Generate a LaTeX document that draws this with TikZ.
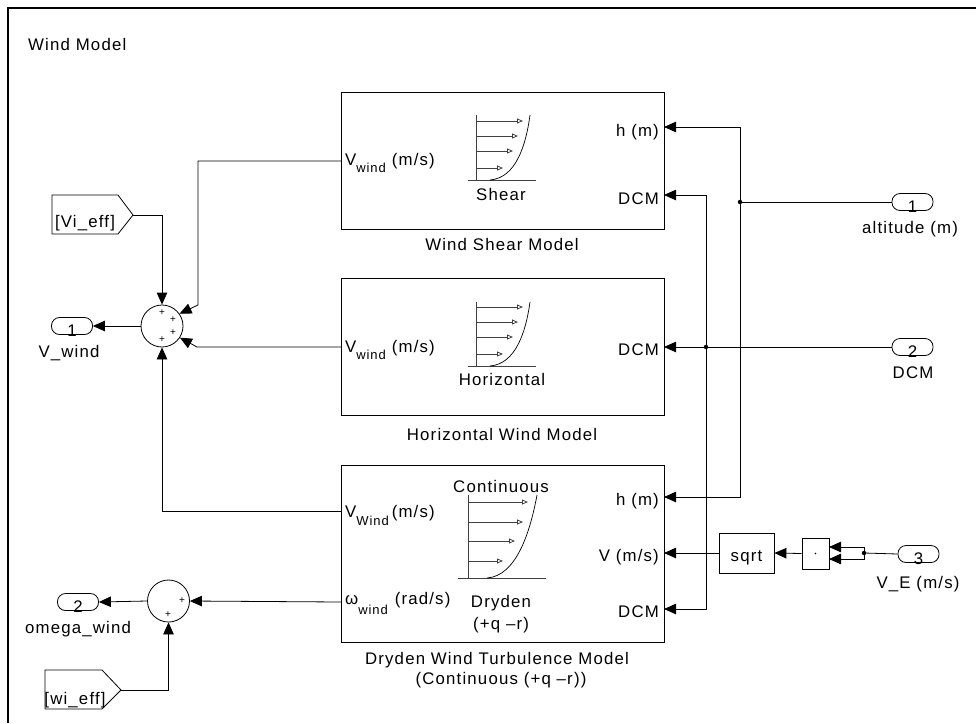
\documentclass[tikz,border=0pt]{standalone}
\usepackage{fontspec}
\setmainfont{Liberation Sans}[LetterSpace=7]
\usetikzlibrary{arrows.meta}
\newcommand{\fs}{\fontsize{16.8}{19}\selectfont}
\newcommand{\fsub}{\fontsize{13}{15}\selectfont}
\tikzset{
  ln/.style={line width=0.8pt},
  sig/.style={line width=0.8pt, -{Triangle[length=12pt,width=10.5pt]}},
  box/.style={draw, line width=0.8pt, inner sep=0pt, anchor=north west},
  txt/.style={font=\fs, inner sep=0pt},
  port/.style={draw, rounded corners=8pt, minimum width=41pt, minimum height=17pt, inner sep=0pt, line width=0.8pt},
  sumc/.style={draw, circle, minimum size=42pt, inner sep=0pt, line width=0.8pt},
  jdot/.style={circle, fill, inner sep=0pt, minimum size=4.5pt},
  plus/.style={font=\fontsize{10}{10}\selectfont, inner sep=0pt},
  iconax/.style={line width=0.9pt, black!75},
  iconar/.style={line width=0.8pt, black!75, -{Triangle[open,length=6pt,width=5pt]}},
}
\begin{document}
\begin{tikzpicture}[x=1pt,y=-1pt]
\useasboundingbox (0,0) rectangle (976,723);
% outer frame (left and top edges visible)
\draw[line width=2.5pt] (8,723) -- (8,8) -- (976,8);
\node[txt, anchor=base west] (title) at (28,50) {Wind Model};

% ---------- main blocks ----------
\node[box, minimum width=323pt, minimum height=137pt] (shear) at (341,92) {};
\node[box, minimum width=323pt, minimum height=137pt] (horiz) at (341,278) {};
\node[box, minimum width=323pt, minimum height=177pt] (dry) at (341,465) {};

% ports
\coordinate (sVin) at (341,161);
\coordinate (sH) at (664,127);
\coordinate (sDCM) at (664,195);
\coordinate (hVin) at (341,347);
\coordinate (hDCM) at (664,347);
\coordinate (dVin) at (341,511);
\coordinate (dW) at (341,602);
\coordinate (dH) at (664,497);
\coordinate (dV) at (664,553);
\coordinate (dDCM) at (664,609);

% shear block texts
\node[txt, anchor=base west] (sVt) at (345,165) {V\raisebox{-7pt}{\fsub wind}\hspace{6pt}(m/s)};
\node[txt, anchor=base east] (sHt) at (659,136) {h (m)};
\node[txt, anchor=base east] (sDt) at (659,204) {DCM};
\node[txt, anchor=base] (sName) at (501,200) {Shear};
\node[txt, anchor=base] (sCap) at (502,250) {Wind Shear Model};
\begin{scope}[shift={(476,180)}]
  \draw[iconax] (0,0) -- (0,-65);
  \draw[iconax] (-8,0) -- (60,0);
  \draw[iconar] (0,-59) -- (47,-59);
  \draw[iconar] (0,-44) -- (42,-44);
  \draw[iconar] (0,-29) -- (37,-29);
  \draw[iconar] (0,-12) -- (27,-12);
  \draw[line width=0.7pt] (14,0) .. controls (40,-2) and (50,-35) .. (54,-65);
\end{scope}

% horizontal block texts
\node[txt, anchor=base west] (hVt) at (345,352) {V\raisebox{-7pt}{\fsub wind}\hspace{6pt}(m/s)};
\node[txt, anchor=base east] (hDt) at (659,355) {DCM};
\node[txt, anchor=base] (hName) at (502,385) {Horizontal};
\node[txt, anchor=base] (hCap) at (502,440) {Horizontal Wind Model};
\begin{scope}[shift={(476,366)}]
  \draw[iconax] (0,0) -- (0,-64);
  \draw[iconax] (-8,0) -- (60,0);
  \draw[iconar] (0,-59) -- (47,-59);
  \draw[iconar] (0,-44) -- (42,-44);
  \draw[iconar] (0,-29) -- (37,-29);
  \draw[iconar] (0,-12) -- (27,-12);
  \draw[line width=0.7pt] (14,0) .. controls (40,-2) and (50,-35) .. (54,-64);
\end{scope}

% dryden block texts
\node[txt, anchor=base west] (dVt) at (345,517) {V\raisebox{-8pt}{\fsub Wind}\hspace{3pt}(m/s)};
\node[txt, anchor=base west] (dWt) at (345,604) {ω\raisebox{-10pt}{\fsub wind}\hspace{7pt}(rad/s)};
\node[txt, anchor=base east] (dHt) at (659,505) {h (m)};
\node[txt, anchor=base east] (dVt2) at (659,561) {V (m/s)};
\node[txt, anchor=base east] (dDt) at (659,617) {DCM};
\node[txt, anchor=base] (dTop) at (501,492) {Continuous};
\node[txt, anchor=base] (dName) at (501,607) {Dryden};
\node[txt, anchor=base] (dName2) at (501,629) {(+q –r)};
\node[txt, anchor=base] (dCap) at (497,664) {Dryden Wind Turbulence Model};
\node[txt, anchor=base] (dCap2) at (501,684) {(Continuous (+q –r))};
\begin{scope}[shift={(468,578)}]
  \draw[iconax] (0,0) -- (0,-83);
  \draw[iconax] (-10,0) -- (78,0);
  \draw[iconar] (0,-76) -- (60,-76);
  \draw[iconar] (0,-56) -- (55,-56);
  \draw[iconar] (0,-37) -- (47,-37);
  \draw[iconar] (0,-17) -- (35,-17);
  \draw[line width=0.7pt] (19,0) .. controls (48,-2) and (62,-45) .. (69,-83);
\end{scope}

% ---------- left side ----------
\node[sumc] (sum1) at (162,326) {};
\node[plus] at (162,313) {+};
\node[plus] at (173,320) {+};
\node[plus] at (173,333) {+};
\node[plus] at (162,340) {+};
\node[sumc] (sum2) at (168.5,601) {};
\node[plus] at (182,601) {+};
\node[plus] at (168,615) {+};

\node[port] (out1) at (72,326) {};
\node[txt, anchor=base] at (72,336) {1};
\node[txt, anchor=base] (out1l) at (69,357) {V\_wind};
\node[port] (out2) at (78,602) {};
\node[txt, anchor=base] at (78,612) {2};
\node[txt, anchor=base] (out2l) at (78,633) {omega\_wind};

% from tags
\draw[ln] (52,195) -- (118,195) -- (133,215) -- (118,234) -- (52,234) -- cycle;
\coordinate (vitip) at (133,215);
\node[txt, anchor=base] (vitag) at (85,227) {[Vi\_eff]};
\draw[ln] (45,670) -- (102,670) -- (121,690) -- (102,709) -- (45,709) -- cycle;
\coordinate (witip) at (121,690);
\node[txt, anchor=base] (witag) at (75,704) {[wi\_eff]};

% ---------- right side ----------
\node[port] (in1) at (912.5,202) {};
\node[txt, anchor=base] at (912.5,212) {1};
\node[txt, anchor=base] (in1l) at (910,233) {altitude (m)};
\node[port] (in2) at (912.5,347) {};
\node[txt, anchor=base] at (912.5,357) {2};
\node[txt, anchor=base] (in2l) at (913,378) {DCM};
\node[port] (in3) at (918.5,554) {};
\node[txt, anchor=base] at (918.5,564) {3};
\node[txt, anchor=base] (in3l) at (918,588) {V\_E (m/s)};

\node[draw, line width=0.8pt, minimum width=55pt, minimum height=40pt, inner sep=0pt] (sqrtb) at (746.5,553) {};
\node[txt, anchor=base] at (746.5,561) {sqrt};
\node[draw, line width=0.8pt, minimum width=27pt, minimum height=31pt, inner sep=0pt] (dotb) at (815.5,553.5) {};
\fill (815.5,553.5) circle (0.9pt);
\coordinate (m1) at (829,547);
\coordinate (m2) at (829,559);

% ---------- connectors ----------
\draw[sig] (vitip) -| (sum1.north);
\draw[sig] (sVin) -- (198,161) -- (198,305) -- (sum1.35);
\draw[sig] (hVin) -- (197,347) -- (sum1.-33);
\draw[sig] (dVin) -| (sum1.south);
\draw[sig] (sum1.west) -- (out1.east);
\draw[sig] (dW) -- (sum2.east);
\draw[sig] (witip) -| (sum2.south);
\draw[sig] (sum2.west) -- (out2.east);

\draw[ln] (in1.west) -- (740,202);
\node[jdot] (j1) at (740,202) {};
\draw[sig] (j1.center) |- (sH);
\draw[sig] (j1.center) |- (dH);

\draw[sig] (in2.west) -- (hDCM);
\node[jdot] (j2) at (706,347) {};
\draw[sig] (j2.center) |- (sDCM);
\draw[sig] (j2.center) |- (dDCM);

\draw[ln] (in3.west) -- (864,553);
\node[jdot] (j3) at (864,553) {};
\draw[sig] (j3.center) -- (864,547) -- (m1);
\draw[sig] (j3.center) -- (864,559) -- (m2);
\draw[sig] (dotb.west) -- (sqrtb.east);
\draw[sig] (sqrtb.west) -- (dV);
\end{tikzpicture}
\end{document}
